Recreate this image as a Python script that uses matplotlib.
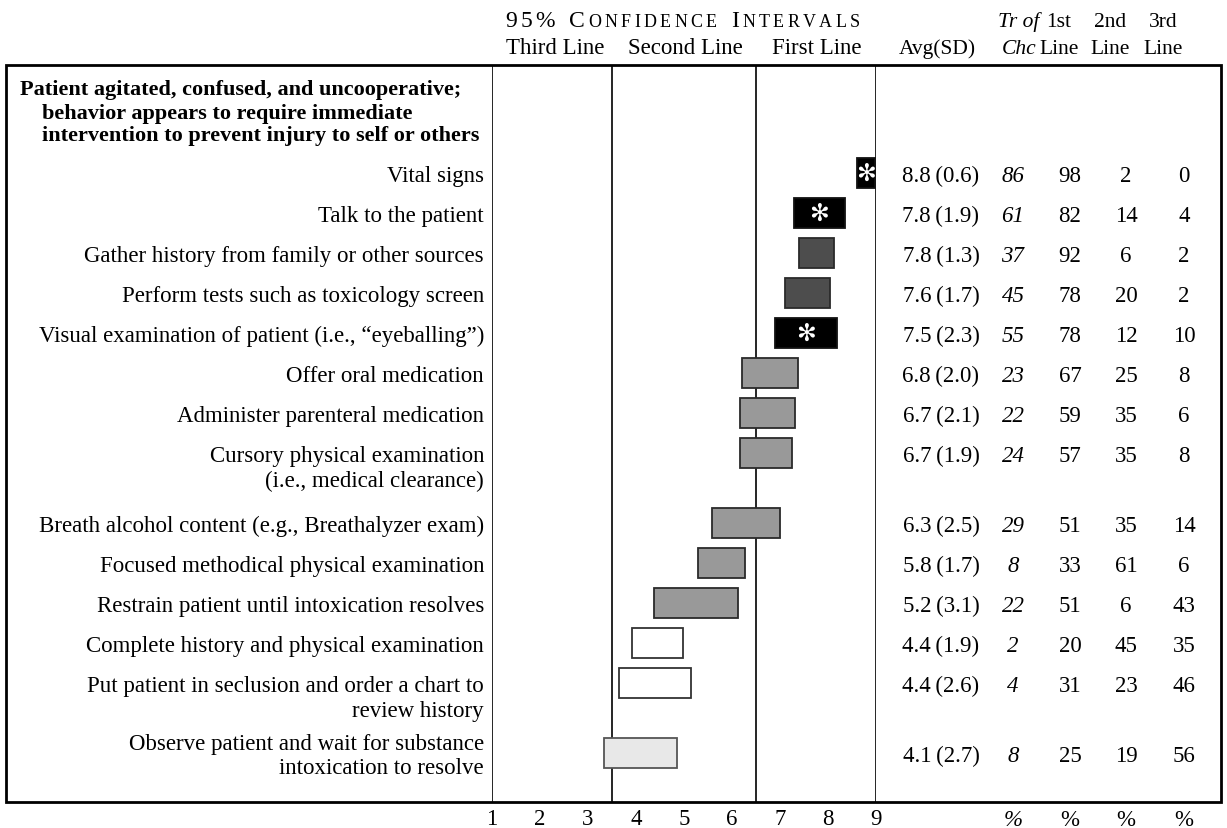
import matplotlib
matplotlib.use('Agg')
import matplotlib.pyplot as plt
import matplotlib.transforms as mtransforms
from matplotlib.patches import Rectangle

plt.rcParams['font.family'] = ['Liberation Serif', 'DejaVu Serif']

W, H = 1227, 829

scenario = ['Patient agitated, confused, and uncooperative;',
            'behavior appears to require immediate',
            'intervention to prevent injury to self or others']

actions = ['Vital signs',
           'Talk to the patient',
           'Gather history from family or other sources',
           'Perform tests such as toxicology screen',
           'Visual examination of patient (i.e., \u201ceyeballing\u201d)',
           'Offer oral medication',
           'Administer parenteral medication',
           'Cursory physical examination\n(i.e., medical clearance)',
           'Breath alcohol content (e.g., Breathalyzer exam)',
           'Focused methodical physical examination',
           'Restrain patient until intoxication resolves',
           'Complete history and physical examination',
           'Put patient in seclusion and order a chart to\nreview history',
           'Observe patient and wait for substance\nintoxication to resolve']

ci_low = [8.60, 7.29, 7.40, 7.11, 6.90, 6.20, 6.16, 6.16, 5.58, 5.29, 4.38, 3.91, 3.65, 3.33]
ci_high = [8.97, 8.35, 8.13, 8.05, 8.19, 7.37, 7.32, 7.25, 7.01, 6.28, 6.13, 4.97, 5.15, 4.85]
avg = [8.8, 7.8, 7.8, 7.6, 7.5, 6.8, 6.7, 6.7, 6.3, 5.8, 5.2, 4.4, 4.4, 4.1]
sd = [0.6, 1.9, 1.3, 1.7, 2.3, 2.0, 2.1, 1.9, 2.5, 1.7, 3.1, 1.9, 2.6, 2.7]
treatment_of_choice = [86, 61, 37, 45, 55, 23, 22, 24, 29, 8, 22, 2, 4, 8]
first_line = [98, 82, 92, 78, 78, 67, 59, 57, 51, 33, 51, 20, 31, 25]
second_line = [2, 14, 6, 20, 12, 25, 35, 35, 35, 61, 6, 45, 23, 19]
third_line = [0, 4, 2, 2, 10, 8, 6, 8, 14, 6, 43, 35, 46, 56]
rating = ['choice', 'choice', 'first', 'first', 'choice', 'second', 'second',
          'second', 'second', 'second', 'second', 'third', 'third', 'none']

fills = {'choice': '#000000', 'first': '#4d4d4d', 'second': '#999999',
         'third': '#ffffff', 'none': '#e8e8e8'}
edges = {'choice': '#111111', 'first': '#2a2a2a', 'second': '#2a2a2a',
         'third': '#333333', 'none': '#555555'}

FS = 16.5
HFS = 15.5

# row positions: one unit per 40 px, extra 0.75 per extra label line
rows = []
pos = 0.0
for lab in actions:
    rows.append(pos)
    pos += 1 + 0.75 * (lab.count('\n'))


def px(x):
    return x / W


def py(y):
    return 1 - y / H


fig = plt.figure(figsize=(W / 100, H / 100), dpi=100)
box_top, box_bot = 66, 803
ax = fig.add_axes([px(492), py(box_bot), px(876) - px(492), (box_bot - box_top) / H])
ax.set_xlim(1, 9)
row0 = 174
ax.set_ylim((box_bot - row0) / 40, (box_top - row0) / 40)
for s in ax.spines.values():
    s.set_visible(False)
ax.set_yticks([])
ax.set_xticks(range(1, 10))
ax.tick_params(axis='x', length=0, labelsize=FS, pad=4)

for x in [1, 3.5, 6.5, 9]:
    ax.axvline(x, color='black', lw=1.2, zorder=1)

ax.barh(rows, [h - l for l, h in zip(ci_low, ci_high)], left=ci_low, height=0.75,
        color=[fills[r] for r in rating], edgecolor=[edges[r] for r in rating],
        linewidth=1.3, zorder=3)
for y, l, h, r in zip(rows, ci_low, ci_high, rating):
    if r == 'choice':
        ax.text((l + h) / 2, y, '\u273b', color='white', ha='center', va='center',
                fontsize=17, family='DejaVu Sans', fontweight='bold', zorder=4)

tr = mtransforms.blended_transform_factory(fig.transFigure, ax.transData)
line_gap = 0.62
for i, (y, lab) in enumerate(zip(rows, actions)):
    parts = lab.split('\n')
    start = y - line_gap * (len(parts) - 1) / 2 if i == len(actions) - 1 else y
    for k, p in enumerate(parts):
        ax.text(px(484), start + k * line_gap, p, transform=tr, ha='right',
                va='center_baseline', fontsize=FS, clip_on=False)

cols = [941, 1013, 1070, 1126, 1184]
for i, y in enumerate(rows):
    vals = [f'{avg[i]:.1f}\u2009({sd[i]:.1f})', str(treatment_of_choice[i]),
            str(first_line[i]), str(second_line[i]), str(third_line[i])]
    for j, (cx, v) in enumerate(zip(cols, vals)):
        ax.text(px(cx), y, v, transform=tr, ha='center', va='center_baseline',
                fontsize=FS, style='italic' if j == 1 else 'normal', clip_on=False)

for j, cx in enumerate(cols[1:]):
    fig.text(px(cx), py(818), '%', ha='center', va='center_baseline', fontsize=FS,
             style='italic' if j == 0 else 'normal')

# scenario heading
heading_y = [87, 111, 134]
heading_x = [20, 42, 42]
for t, x, y in zip(scenario, heading_x, heading_y):
    fig.text(px(x), py(y), t, fontweight='bold', fontsize=16, va='center_baseline')

# column headers
fig.text(px(555), py(54), 'Third Line', ha='center', fontsize=FS)
fig.text(px(685), py(54), 'Second Line', ha='center', fontsize=FS)
fig.text(px(817), py(54), 'First Line', ha='center', fontsize=FS)
fig.text(px(937), py(54), 'Avg(SD)', ha='center', fontsize=HFS)
fig.text(px(1019), py(27), 'Tr of', ha='center', fontsize=HFS, style='italic')
fig.text(px(1019), py(54), 'Chc', ha='center', fontsize=HFS, style='italic')
for cx, t in zip([1059, 1110, 1163], ['1st', '2nd', '3rd']):
    fig.text(px(cx), py(27), t, ha='center', fontsize=HFS)
    fig.text(px(cx), py(54), 'Line', ha='center', fontsize=HFS)

# small-caps title with letter spacing
renderer = fig.canvas.get_renderer()
title = '95% CONFIDENCE INTERVALS'
big, small, track = 17, 13, 3.4
x = 505
prev = ' '
for ch in title:
    if ch == ' ':
        x += big * 100 / 72 * 0.3 + track
        prev = ch
        continue
    size = big if (prev == ' ' or not ch.isalpha()) else small
    t = fig.text(px(x), py(27), ch, fontsize=size)
    x += t.get_window_extent(renderer).width + track
    prev = ch

fig.patches.append(Rectangle((px(6), py(box_bot)), px(1221) - px(6), (box_bot - box_top) / H,
                             transform=fig.transFigure, fill=False, lw=2, ec='black'))

fig.savefig('out.png', dpi=100)
